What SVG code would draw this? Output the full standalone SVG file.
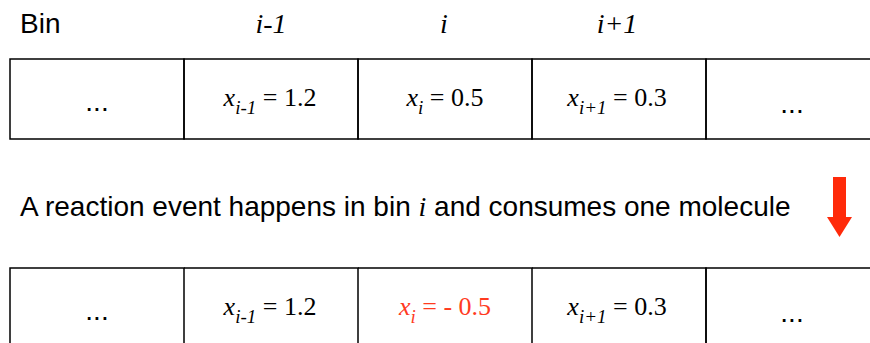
<svg xmlns="http://www.w3.org/2000/svg" width="870" height="343" viewBox="0 0 870 343">
<style>
.sans{font-family:"Liberation Sans",Arial,sans-serif;font-size:28px;fill:#000}
.ser{font-family:"Liberation Serif","Times New Roman",serif;font-size:26px;fill:#000}
.hdr{font-family:"Liberation Serif","Times New Roman",serif;font-size:28px;font-style:italic;fill:#000}
.it{font-style:italic}
.sub{font-size:19px;font-style:italic}
.cell{fill:none;stroke:#000;stroke-width:1.5}
.red{fill:#ff2a0a}
.redt{fill:#ff3b1f}
</style>
<rect width="870" height="343" fill="#fff"/>
<g id="header">
<text class="sans" x="20" y="33">Bin</text>
<text class="hdr" x="271" y="33" text-anchor="middle">i-1</text>
<text class="hdr" x="444" y="33" text-anchor="middle">i</text>
<text class="hdr" x="617" y="33" text-anchor="middle">i+1</text>
</g>
<g id="row1">
<g id="r1c0"><path class="cell" d="M10 59 H184 V139 H10 Z"/><text class="sans" x="97" y="111" text-anchor="middle">...</text></g>
<g id="r1c1"><path class="cell" d="M184 59 H358 V139 H184 Z"/><text class="ser" x="270" y="106" text-anchor="middle"><tspan class="it">x</tspan><tspan class="sub" dy="8">i-1</tspan><tspan dy="-8"> = 1.2</tspan></text></g>
<g id="r1c2"><path class="cell" d="M358 59 H532 V139 H358 Z"/><text class="ser" x="445" y="106" text-anchor="middle"><tspan class="it">x</tspan><tspan class="sub" dy="8">i</tspan><tspan dy="-8"> = 0.5</tspan></text></g>
<g id="r1c3"><path class="cell" d="M532 59 H706 V139 H532 Z"/><text class="ser" x="617" y="106" text-anchor="middle"><tspan class="it">x</tspan><tspan class="sub" dy="8">i+1</tspan><tspan dy="-8"> = 0.3</tspan></text></g>
<g id="r1c4"><path class="cell" d="M870 59 H706 V139 H870"/><text class="sans" x="792" y="113" text-anchor="middle">...</text></g>
</g>
<g id="caption">
<text class="sans" x="20" y="216">A reaction event happens in bin <tspan class="hdr">i</tspan> and consumes one molecule</text>
</g>
<g id="arrow">
<path class="red" d="M833 177 H846 V217 H852 L839.5 237 L827 217 H833 Z"/>
</g>
<g id="row2">
<g id="r2c0"><path class="cell" d="M10 343 V268 H184 V343"/><text class="sans" x="97" y="320" text-anchor="middle">...</text></g>
<g id="r2c1"><path class="cell" d="M184 268 H358 V343"/><text class="ser" x="270" y="315" text-anchor="middle"><tspan class="it">x</tspan><tspan class="sub" dy="8">i-1</tspan><tspan dy="-8"> = 1.2</tspan></text></g>
<g id="r2c2"><path class="cell" d="M358 268 H532 V343"/><text class="ser redt" x="445" y="315" text-anchor="middle"><tspan class="it redt">x</tspan><tspan class="sub redt" dy="8">i</tspan><tspan class="redt" dy="-8"> = - 0.5</tspan></text></g>
<g id="r2c3"><path class="cell" d="M532 268 H706 V343"/><text class="ser" x="617" y="315" text-anchor="middle"><tspan class="it">x</tspan><tspan class="sub" dy="8">i+1</tspan><tspan dy="-8"> = 0.3</tspan></text></g>
<g id="r2c4"><path class="cell" d="M706 343 V268 H870"/><text class="sans" x="792" y="322" text-anchor="middle">...</text></g>
</g>
</svg>
